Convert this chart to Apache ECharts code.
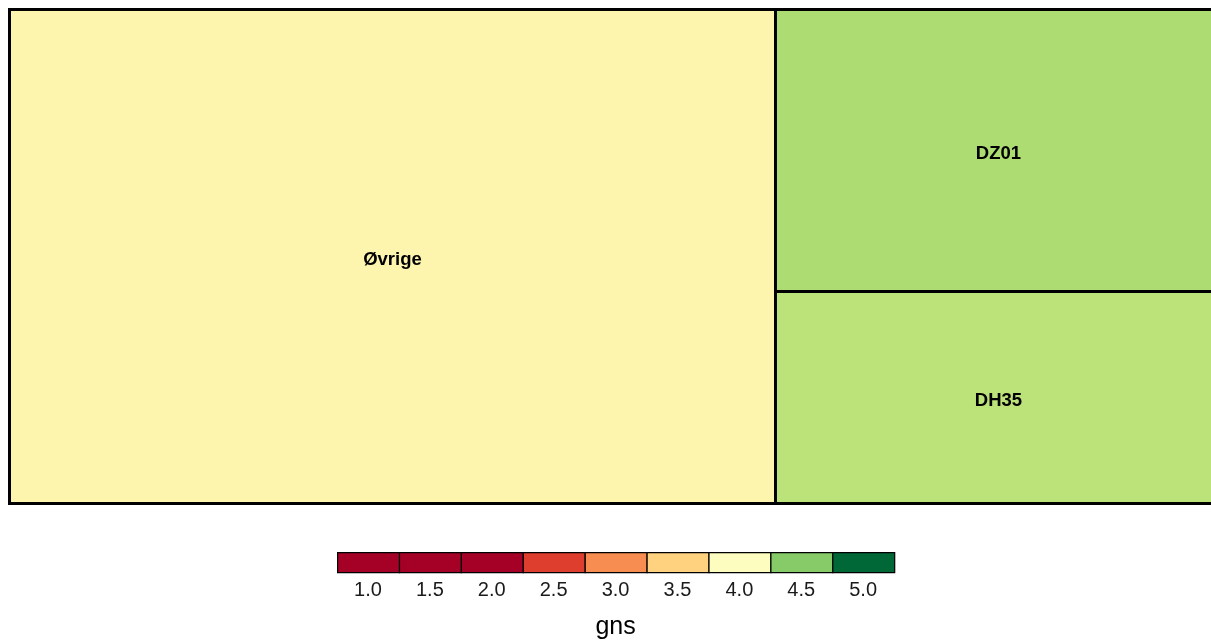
<!DOCTYPE html>
<html>
<head>
<meta charset="utf-8">
<script src="https://cdn.jsdelivr.net/npm/echarts@6/dist/echarts.min.js"></script>
<style>html,body{margin:0;padding:0;background:#fff;}#c{width:1211px;height:641px;}</style>
</head>
<body>
<div id="c"></div>
<script>
// Treemap data
var names = ['Øvrige', 'DZ01', 'DH35'];
var sizes = [632, 210, 158];
var means = [3.9, 4.45, 4.35];
var fillColors = ['#fdf4ae', '#addc72', '#bce27a'];

// Legend (colour key)
var legendLabels = ['1.0', '1.5', '2.0', '2.5', '3.0', '3.5', '4.0', '4.5', '5.0'];
var legendColors = ['#a50026', '#a50026', '#a50026', '#dd3e2d', '#f88d52', '#fed27f', '#fefdc0', '#86cb67', '#006837'];
var legendTitle = 'gns';

var chart = echarts.init(document.getElementById('c'));

var data = names.map(function (n, i) {
  return { name: n, value: sizes[i], mean: means[i], itemStyle: { color: fillColors[i] } };
});

var graphics = [];
var lx = 337, ly = 552, bw = 61.9, bh = 20;
legendColors.forEach(function (c, i) {
  graphics.push({
    type: 'rect', left: lx + i * bw, top: ly,
    shape: { width: bw, height: bh },
    style: { fill: c, stroke: '#000', lineWidth: 1.2 }
  });
  graphics.push({
    type: 'text', x: lx + i * bw + bw / 2, y: ly + bh + 18,
    style: { text: legendLabels[i], fill: '#1a1a1a', font: '20px "Liberation Sans", Arial, sans-serif', textAlign: 'center', textVerticalAlign: 'middle' }
  });
});
graphics.push({
  type: 'text', x: lx + 4.5 * bw, y: 627,
  style: { text: legendTitle, fill: '#000', font: '25px "Liberation Sans", Arial, sans-serif', textAlign: 'center', textVerticalAlign: 'middle' }
});

chart.setOption({
  animation: false,
  graphic: graphics,
  series: [{
    type: 'treemap',
    left: 8, top: 8, right: -12, bottom: 136,
    squareRatio: 1,
    roam: false,
    nodeClick: false,
    breadcrumb: { show: false },
    label: {
      show: true, position: 'inside', color: '#000',
      fontWeight: 'bold', fontSize: 18.5,
      fontFamily: '"Liberation Sans", Arial, sans-serif',
      align: 'center', verticalAlign: 'middle',
      offset: [0, 3]
    },
    levels: [
      { itemStyle: { borderColor: '#000', borderWidth: 3, gapWidth: 3 } },
      { itemStyle: { borderWidth: 0, gapWidth: 0 } }
    ],
    data: data
  }]
});
</script>
</body>
</html>
